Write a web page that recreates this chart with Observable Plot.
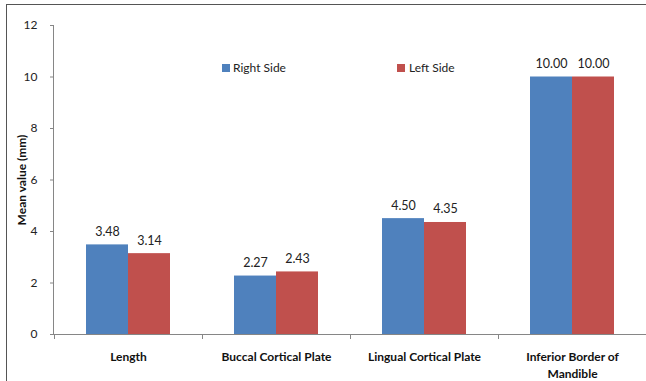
<!DOCTYPE html>
<html>
<head>
<meta charset="utf-8">
<script src="https://cdn.jsdelivr.net/npm/d3@7"></script>
<script src="https://cdn.jsdelivr.net/npm/@observablehq/plot@0.6"></script>
<style>
  body { margin: 0; background: #fff; }
  #wrap { position: relative; width: 646px; height: 381px; overflow: hidden; font-family: Lato, "Open Sans", sans-serif; background:#fff; }
  #chart { position: absolute; left: 0; top: 0; }
  #border { position: absolute; left: 6px; top: 4px; width: 720px; height: 420px; border-left: 1px solid #555; border-top: 1px solid #555; pointer-events: none; }
  #yline { position: absolute; left: 53px; top: 25px; width: 1px; height: 310px; background: #868686; pointer-events: none; }
  .leg { position: absolute; font-size: 12px; color: #222; line-height: 14px; top: 61px; }
  .sw { position: absolute; width: 8px; height: 8px; top: 64px; }
  #ylab { position: absolute; left: 21px; top: 180px; transform: translate(-50%, -50%) rotate(-90deg); font-weight: bold; font-size: 12px; color: #111; white-space: nowrap; }
</style>
</head>
<body>
<div id="wrap">
  <div id="chart"></div>
  <div id="yline"></div>
  <div id="border"></div>
  <div id="ylab">Mean value (mm)</div>
  <div class="sw" style="left:222px;background:#4F81BD"></div>
  <div class="leg" style="left:233px">Right Side</div>
  <div class="sw" style="left:397px;background:#C0504D"></div>
  <div class="leg" style="left:409px">Left Side</div>
</div>
<script>
const categories = ["Length", "Buccal Cortical Plate", "Lingual Cortical Plate", "Inferior Border of Mandible"];
const sides = ["Right Side", "Left Side"];
const rightValues = [3.48, 2.27, 4.50, 10.00];
const leftValues = [3.14, 2.43, 4.35, 10.00];
const yTicks = [0, 2, 4, 6, 8, 10, 12];
const sideColors = ["#4F81BD", "#C0504D"];

const rows = [];
categories.forEach((c, i) => {
  rows.push({category: c, side: sides[0], value: rightValues[i]});
  rows.push({category: c, side: sides[1], value: leftValues[i]});
});

const wrapLabel = d => d === "Inferior Border of Mandible" ? "Inferior Border of\nMandible" : d;
const plotHeight = 381, mTop = 25, mBottom = 47;
const frameH = plotHeight - mTop - mBottom;

const chart = Plot.plot({
  width: 646,
  height: plotHeight,
  marginLeft: 53,
  marginRight: 0,
  marginTop: mTop,
  marginBottom: mBottom,
  style: {fontFamily: "Lato, 'Open Sans', sans-serif"},
  fx: {domain: categories, padding: 0, label: null, axis: null},
  x: {domain: sides, paddingInner: 0, paddingOuter: 0.724, axis: null},
  y: {domain: [0, 12], axis: null},
  color: {domain: sides, range: sideColors},
  marks: [
    Plot.barY(rows, {fx: "category", x: "side", y: "value", fill: "side"}),
    Plot.text(rows, {fx: "category", x: "side", y: "value", text: d => d.value.toFixed(2), dy: -13, fontSize: 12.5, fill: "#222"}),
    Plot.ruleY([0], {stroke: "#868686"}),
    // category boundary ticks below the axis
    Plot.frame({anchor: "left", stroke: "#868686", insetTop: frameH, insetBottom: -4}),
    Plot.frame({anchor: "right", facetAnchor: "right", stroke: "#868686", insetTop: frameH, insetBottom: -4}),
    Plot.axisY({ticks: yTicks, tickSize: 4, tickPadding: 13, label: null, stroke: "#868686", fill: "#222", fontSize: 12}),
    Plot.axisFx({anchor: "bottom", tickSize: 0, tickPadding: 15, label: null, tickFormat: wrapLabel, fontWeight: "bold", fontSize: 12, lineHeight: 1.4, fill: "#111"})
  ]
});
document.getElementById("chart").appendChild(chart);
</script>
</body>
</html>
